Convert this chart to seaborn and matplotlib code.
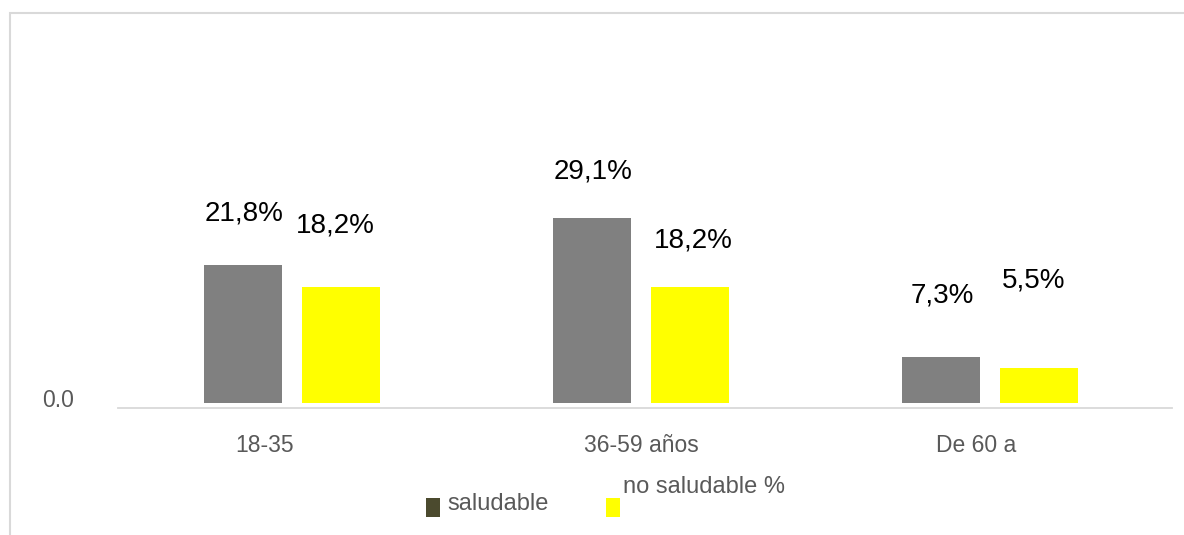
import matplotlib
matplotlib.use("Agg")
import matplotlib.pyplot as plt
import matplotlib.transforms as mtransforms
from matplotlib.patches import Rectangle
import pandas as pd
import seaborn as sns

# --- data -------------------------------------------------------------
grupos = ["18-35", "36-59 años", "De 60 a"]
series = ["saludable", "no saludable %"]
saludable = [21.8, 29.1, 7.3]
no_saludable = [18.2, 18.2, 5.5]

# --- styling ----------------------------------------------------------
bar_colors = {"saludable": "#808080", "no saludable %": "#FFFF00"}
legend_colors = {"saludable": "#4B4A2E", "no saludable %": "#FFFF00"}
text_gray = "#595959"
line_gray = "#D9D9D9"

# value-label nudges in points (dx, dy above the bar top), per series
label_dx = {"saludable": [0.4, 0.4, 1.1], "no saludable %": [-4.3, 2.5, -4.0]}
label_dy = {"saludable": [31.7, 28.8, 38.9], "no saludable %": [39.6, 28.8, 58.3]}
# horizontal nudges of the category labels, in points
tick_dx = [-20.0, 0.0, -10.0]

sns.set_theme(style="white")
plt.rcParams["font.family"] = ["Liberation Sans", "DejaVu Sans"]

df = pd.DataFrame({
    "grupo": grupos * 2,
    "serie": [series[0]] * 3 + [series[1]] * 3,
    "valor": saludable + no_saludable,
})

W, H = 1184, 535
fig = plt.figure(figsize=(W / 100, H / 100), dpi=100)
ax = fig.add_axes([118 / W, (H - 408) / H, (1172 - 118) / W, (408 - 60) / H])

sns.barplot(data=df, x="grupo", y="valor", hue="serie", order=grupos,
            hue_order=series, palette=bar_colors, saturation=1,
            width=0.56, gap=0.2, linewidth=0, errorbar=None,
            legend=False, ax=ax)

ax.set_xlim(-0.4986, 2.5215)
ax.set_ylim(-0.787, 54.0)

# value labels above each bar
for serie, cont in zip(series, ax.containers):
    for j, bar in enumerate(cont):
        v = bar.get_height()
        ax.annotate(f"{v:.1f}%".replace(".", ","),
                    xy=(bar.get_x() + bar.get_width() / 2, v),
                    xytext=(label_dx[serie][j], label_dy[serie][j]),
                    textcoords="offset points", ha="center", va="baseline",
                    fontsize=20, color="black")

# axes cosmetics
for s in ("top", "right", "left"):
    ax.spines[s].set_visible(False)
ax.spines["bottom"].set_color(line_gray)
ax.spines["bottom"].set_linewidth(1.3)
ax.set_xlabel("")
ax.set_ylabel("")
ax.set_yticks([0])
ax.set_yticklabels(["0.0"])
ax.tick_params(axis="both", length=0, colors=text_gray, labelsize=16.5)
ax.tick_params(axis="y", pad=32)
ax.tick_params(axis="x", pad=19)

for lab in ax.get_yticklabels():
    lab.set_transform(lab.get_transform() +
                      mtransforms.ScaledTranslation(0, 3.6 / 72, fig.dpi_scale_trans))
for lab, dx in zip(ax.get_xticklabels(), tick_dx):
    lab.set_transform(lab.get_transform() +
                      mtransforms.ScaledTranslation(dx / 72, 0, fig.dpi_scale_trans))

# legend drawn as swatches and labels in figure coordinates
legend_items = [
    ("saludable", 426, 447, 510),
    ("no saludable %", 606, 623, 493),
]
for name, sx, tx, base in legend_items:
    fig.patches.append(Rectangle((sx / W, (H - 517) / H), 14 / W, 19 / H,
                                 transform=fig.transFigure,
                                 color=legend_colors[name], lw=0))
    fig.text(tx / W, (H - base) / H, name, ha="left", va="baseline",
             fontsize=17, color=text_gray)

# outer chart-area frame
fig.patches.append(Rectangle((10 / W, -0.05), 1.2, (H - 13) / H + 0.05,
                             transform=fig.transFigure, fill=False,
                             ec=line_gray, lw=1.5))

fig.savefig("out.png", dpi=100)
